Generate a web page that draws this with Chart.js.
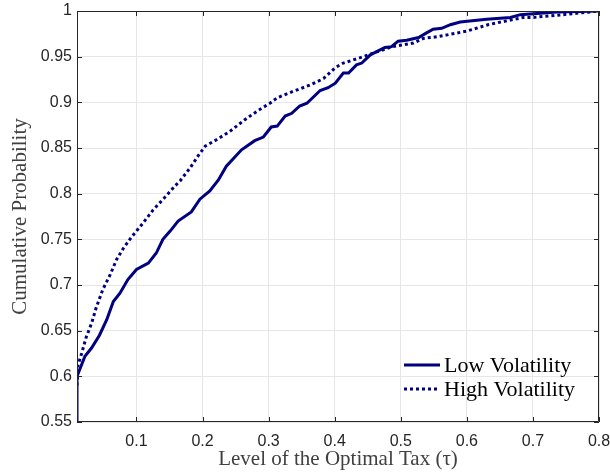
<!DOCTYPE html>
<html><head><meta charset="utf-8">
<script src="https://cdn.jsdelivr.net/npm/chart.js@4/dist/chart.umd.min.js"></script>
<style>html,body{margin:0;padding:0;background:#fff}canvas{display:block}</style>
</head><body>
<canvas id="c" width="610" height="474"></canvas>
<script>
const seriesNames = ['Low Volatility', 'High Volatility'];
const lowX = [0.01,0.01,0.022,0.032,0.044,0.055,0.065,0.075,0.087,0.1,0.118,0.13,0.14,0.151,0.163,0.183,0.196,0.211,0.224,0.236,0.259,0.279,0.292,0.304,0.313,0.325,0.335,0.347,0.358,0.378,0.39,0.401,0.413,0.421,0.433,0.441,0.454,0.476,0.486,0.496,0.509,0.527,0.539,0.549,0.562,0.575,0.59,0.63,0.666,0.681,0.701,0.736,0.8];
const lowY = [0.55,0.6,0.622,0.631,0.645,0.662,0.682,0.691,0.706,0.717,0.724,0.735,0.75,0.759,0.77,0.78,0.794,0.803,0.815,0.83,0.848,0.858,0.862,0.873,0.874,0.885,0.888,0.896,0.899,0.913,0.916,0.921,0.932,0.932,0.941,0.943,0.952,0.96,0.961,0.967,0.968,0.971,0.976,0.98,0.981,0.985,0.988,0.991,0.993,0.996,0.997,0.999,1.0];
const highX = [0.01,0.0115,0.017,0.024,0.032,0.039,0.049,0.06,0.07,0.08,0.092,0.109,0.125,0.143,0.159,0.166,0.181,0.193,0.204,0.221,0.241,0.264,0.284,0.302,0.313,0.337,0.363,0.383,0.401,0.413,0.435,0.459,0.487,0.519,0.534,0.557,0.6,0.632,0.686,0.701,0.746,0.8];
const highY = [0.59,0.612,0.625,0.643,0.658,0.675,0.695,0.711,0.728,0.74,0.752,0.767,0.782,0.796,0.809,0.814,0.828,0.841,0.852,0.859,0.868,0.881,0.891,0.899,0.905,0.912,0.919,0.926,0.938,0.943,0.948,0.954,0.961,0.965,0.97,0.972,0.978,0.985,0.993,0.993,0.996,1.0];
const xTicks = [0.1,0.2,0.3,0.4,0.5,0.6,0.7,0.8];
const yTicks = [0.55,0.6,0.65,0.7,0.75,0.8,0.85,0.9,0.95,1];
const xTitle = 'Level of the Optimal Tax (τ)';
const yTitle = 'Cumulative Probability';

const NAVY = '#000080';
const fmt = v => String(+(+v).toFixed(2));

const frame = {
  id: 'frame',
  afterDatasetsDraw(chart) {
    const {ctx, chartArea: a, scales: {x, y}} = chart;
    ctx.save();
    ctx.strokeStyle = '#262626';
    ctx.lineWidth = 1;
    ctx.beginPath();
    ctx.rect(a.left + 0.5, a.top + 0.5, a.right - a.left - 1, a.bottom - a.top - 1);
    xTicks.forEach(v => {
      const p = Math.round(x.getPixelForValue(v)) + 0.5;
      ctx.moveTo(p, a.bottom); ctx.lineTo(p, a.bottom - 5);
      ctx.moveTo(p, a.top); ctx.lineTo(p, a.top + 5);
    });
    yTicks.forEach(v => {
      const p = Math.round(y.getPixelForValue(v)) + 0.5;
      ctx.moveTo(a.left, p); ctx.lineTo(a.left + 5, p);
      ctx.moveTo(a.right, p); ctx.lineTo(a.right - 5, p);
    });
    ctx.stroke();
    // legend
    const ds = chart.data.datasets;
    const x0 = a.right - 195, x1 = a.right - 159, tx = a.right - 155;
    const ys = [a.bottom - 57, a.bottom - 33];
    ctx.font = '22px "Liberation Serif"';
    ctx.textAlign = 'left';
    ctx.textBaseline = 'middle';
    ds.forEach((d, i) => {
      ctx.strokeStyle = d.borderColor;
      ctx.lineWidth = d.borderWidth;
      ctx.setLineDash(d.borderDash || []);
      ctx.lineCap = 'butt';
      ctx.beginPath();
      ctx.moveTo(x0, ys[i]); ctx.lineTo(x1, ys[i]);
      ctx.stroke();
      ctx.setLineDash([]);
      ctx.fillStyle = '#000';
      ctx.fillText(d.label, tx, ys[i] + 1);
    });
    ctx.restore();
  }
};

new Chart(document.getElementById('c'), {
  type: 'scatter',
  data: {
    datasets: [
      {
        label: seriesNames[0],
        data: lowX.map((v, i) => ({x: v, y: lowY[i]})),
        showLine: true, borderColor: NAVY, backgroundColor: NAVY,
        borderWidth: 3, pointRadius: 0, tension: 0
      },
      {
        label: seriesNames[1],
        data: highX.map((v, i) => ({x: v, y: highY[i]})),
        showLine: true, borderColor: NAVY, backgroundColor: NAVY,
        borderWidth: 3, borderDash: [3, 3], pointRadius: 0, tension: 0
      }
    ]
  },
  options: {
    responsive: false,
    animation: false,
    layout: {padding: {left: 0, right: 11, top: 11, bottom: 0}},
    plugins: {legend: {display: false}, tooltip: {enabled: false}},
    scales: {
      x: {
        type: 'linear', min: 0.01, max: 0.8,
        afterBuildTicks: s => { s.ticks = xTicks.map(v => ({value: v})); },
        afterFit: s => { s.height = 52; s.paddingLeft = 0; s.paddingRight = 0; },
        ticks: {callback: fmt, color: '#262626', padding: 10, maxRotation: 0, font: {family: 'Liberation Sans', size: 16}},
        grid: {color: '#e6e6e6', drawTicks: false},
        border: {display: false},
        title: {display: true, text: xTitle, color: '#404040', padding: {top: 0, bottom: 2}, font: {family: 'Liberation Serif', size: 21}}
      },
      y: {
        type: 'linear', min: 0.55, max: 1,
        afterBuildTicks: s => { s.ticks = yTicks.map(v => ({value: v})); },
        afterFit: s => { s.width = 77; s.paddingTop = 0; s.paddingBottom = 0; },
        ticks: {callback: fmt, color: '#262626', padding: 5, font: {family: 'Liberation Sans', size: 16}},
        grid: {color: '#e6e6e6', drawTicks: false},
        border: {display: false},
        title: {display: true, text: yTitle, color: '#404040', padding: {top: 8, bottom: 0}, font: {family: 'Liberation Serif', size: 21}}
      }
    }
  },
  plugins: [frame]
});
</script>
</body></html>
